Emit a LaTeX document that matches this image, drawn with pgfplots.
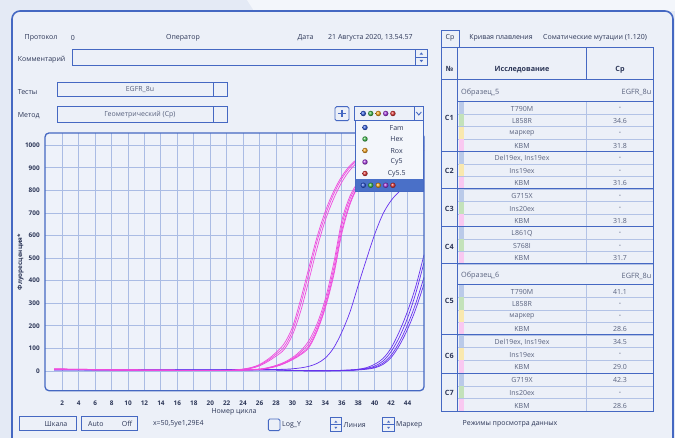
\documentclass[border=0pt]{standalone}
\usepackage{fontspec}
\setmainfont{Open Sans}
\usepackage{pgfplots}
\pgfplotsset{compat=1.18}
\definecolor{bgc}{HTML}{E4EAF5}
\definecolor{bgl}{HTML}{F3F6FB}
\definecolor{panel}{HTML}{ECF0F8}
\definecolor{plotbg}{HTML}{EEF2FA}
\definecolor{framec}{HTML}{4568C2}
\definecolor{gridc}{HTML}{AABCE4}
\definecolor{txt}{HTML}{2C3657}
\definecolor{gtxt}{HTML}{59627E}
\definecolor{pinkc}{HTML}{EE4CDE}
\definecolor{purpc}{HTML}{6630EE}
\definecolor{dblue}{HTML}{2F5BE0}
\definecolor{dgreen}{HTML}{3DBB4A}
\definecolor{dorange}{HTML}{F7A21B}
\definecolor{dpurple}{HTML}{A437E0}
\definecolor{dred}{HTML}{E03232}
\definecolor{hl}{HTML}{4A70C8}
\definecolor{cfam}{HTML}{BACAE9}
\definecolor{chex}{HTML}{C3E2BA}
\definecolor{crox}{HTML}{F9E8AE}
\definecolor{ckbm}{HTML}{F9C8F1}
\definecolor{rowl}{HTML}{B3C3E6}
\newcommand{\fs}[1]{\fontsize{#1}{#1}\selectfont}
\newcommand{\trow}[5]{%
  \fill[#4] (458.5,#1) rectangle (463.5,#2);
  \draw[rowl, line width=0.6pt] (458,#2) -- (653,#2);
  \node[ttxt] at (522,{(#1+#2)/2+0.6}) {#3};
  \node[ttxt] at (620,{(#1+#2)/2+0.6}) {#5};
}
\newcommand{\dotrow}[2]{%
  \shade[ball color=dblue] (#1,#2) circle (2.7);
  \shade[ball color=dgreen] (#1+7.4,#2) circle (2.7);
  \shade[ball color=dorange] (#1+15,#2) circle (2.7);
  \shade[ball color=dpurple] (#1+22.4,#2) circle (2.7);
  \shade[ball color=dred] (#1+29.6,#2) circle (2.7);
}
\tikzset{
  lbl/.style={font=\fs{7}, text=txt, inner sep=0pt},
  gt/.style={font=\fs{7}, text=gtxt, inner sep=0pt},
  ttxt/.style={font=\fs{7}, text=gtxt, inner sep=0pt},
  hdr/.style={font=\fs{7.2}\bfseries, text=txt, inner sep=0pt},
  box/.style={draw=framec, line width=0.9pt},
}
\begin{document}
\begin{tikzpicture}
\useasboundingbox (0,0) rectangle (675pt,438pt);
\clip (0,0) rectangle (675pt,438pt);
\begin{scope}[x=1pt,y=-1pt,shift={(0,438pt)}]
\fill[bgc] (0,0) rectangle (675,438);
\fill[bgl] (247,0) -- (675,0) -- (675,11) -- (254,11) -- cycle;
\fill[panel, rounded corners=8pt] (12,11) rectangle (673,460);
\draw[framec, line width=1.6pt, rounded corners=8pt] (12,460) -- (12,11) -- (673,11) -- (673,460);
% header
\node[lbl, anchor=west] at (24.5,37.7) {Протокол};
\node[lbl] at (73,37.7) {0};
\node[lbl] at (183,37.7) {Оператор};
\node[lbl] at (305.5,37.7) {Дата};
\node[lbl, anchor=west] at (328,37.7) {21 Августа 2020,\ 13.54.57};
\node[lbl, anchor=west] at (17.7,59.3) {Комментарий};
\draw[box] (72.7,49) rectangle (427.7,65.7);
\draw[box] (415,49) rectangle (427.7,65.7);
\draw[framec, line width=0.5pt] (415,57.3) -- (427.7,57.3);
\fill[framec] (419.6,54.6) -- (423.1,54.6) -- (421.35,52.4) -- cycle;
\fill[framec] (419.6,60) -- (423.1,60) -- (421.35,62.2) -- cycle;
\node[lbl, anchor=west] at (17.7,92.3) {Тесты};
\draw[box] (57.3,82.7) rectangle (227.7,96);
\draw[box] (213.3,82.7) -- (213.3,96);
\node[gt] at (140,89.6) {EGFR\_8u};
\node[lbl, anchor=west] at (17.7,115.3) {Метод};
\draw[box] (57.3,106.7) rectangle (227.7,122.3);
\draw[box] (213.3,106.7) -- (213.3,122.3);
\node[gt] at (140,114.6) {Геометрический (Ср)};
% plot background
\fill[plotbg, rounded corners=4pt] (45,133) rectangle (424,390.7);
\end{scope}
\begin{axis}[
  at={(45pt,47.3pt)}, anchor=south west,
  scale only axis, width=379pt, height=257.7pt,
  xmin=-0.1, xmax=46, ymin=-87, ymax=1054,
  xtick={2,4,...,44}, ytick={0,100,...,1000},
  grid=major, major grid style={draw=gridc, line width=0.85pt},
  axis line style={draw=none}, tick style={draw=none},
  /pgf/number format/1000 sep={}, /pgf/number format/assume math mode=true,
  tick label style={font=\fs{6.4}\bfseries, text=txt},
  xticklabel style={anchor=base, yshift=-14.8pt},
  yticklabel style={anchor=east, xshift=-1.8pt},
  every axis plot/.append style={line width=0.7pt, smooth, tension=0.55, mark=none},
]
% purple curves
\addplot[purpc] coordinates {(1,6)(5,5)(10,4)(15,4)(20,4)(25,5)(27,6)(29,8)(30,10)(31,14)(32,21)(33,34)(34,58)(35,102)(36,172)(37,262)(38,380)(39,495)(40,605)(41,695)(42,755)(43,795)(44,825)(46,860)};
\addplot[purpc] coordinates {(1,6)(10,5)(20,5)(25,6)(27,6)(29,4)(31,2)(33,1)(35,2)(37,5)(38,8)(39,15)(40,30)(41,55)(42,102)(43,175)(44,265)(45,375)(46,515)};
\addplot[purpc] coordinates {(1,6)(10,5)(20,5)(25,6)(27,6)(29,4)(31,2)(33,1)(35,2)(37,4)(38,7)(39,12)(40,22)(41,44)(42,86)(43,150)(44,235)(45,345)(46,480)};
\addplot[purpc] coordinates {(1,6)(10,5)(20,5)(25,6)(27,6)(29,4)(31,2)(33,1)(35,1)(37,3)(38,6)(39,10)(40,17)(41,35)(42,70)(43,128)(44,205)(45,300)(46,415)};
\addplot[purpc] coordinates {(1,6)(10,5)(20,5)(25,6)(27,6)(29,4)(31,2)(33,1)(35,1)(37,3)(38,5)(39,8)(40,14)(41,29)(42,60)(43,113)(44,185)(45,275)(46,385)};
% pink curves, sample 6
\addplot[pinkc] coordinates {(1,9)(4,8)(8,6)(12,4)(16,3)(20,2)(22,3)(23,5)(24,9)(25,16)(26,29)(27,52)(28,82)(29,122)(30,195)(31,318)(32,458)(33,595)(34,708)(35,795)(36,862)(37,910)(38,940)(40,972)(42,987)(44,994)(46,998)};
\addplot[pinkc] coordinates {(1,8)(4,7)(8,5)(12,4)(16,3)(20,2)(22,2)(23,4)(24,8)(25,14)(26,26)(27,47)(28,74)(29,108)(30,178)(31,295)(32,435)(33,575)(34,690)(35,782)(36,852)(37,902)(38,934)(40,968)(42,985)(44,993)(46,997)};
\addplot[pinkc] coordinates {(1,8)(4,7)(8,5)(12,4)(16,3)(20,2)(22,2)(23,3)(24,7)(25,12)(26,23)(27,42)(28,66)(29,96)(30,160)(31,265)(32,402)(33,545)(34,668)(35,762)(36,836)(37,890)(38,925)(40,962)(42,982)(44,992)(46,996)};
% pink curves, sample 5
\addplot[pinkc] coordinates {(1,9)(4,8)(8,6)(12,4)(16,3)(20,3)(22,3)(24,5)(26,9)(27,15)(28,25)(29,39)(30,60)(31,90)(32,135)(33,210)(34,320)(35,475)(36,665)(37,775)(38,838)(39,880)(40,910)(42,948)(44,967)(46,979)};
\addplot[pinkc] coordinates {(1,8)(4,7)(8,5)(12,4)(16,3)(20,2)(22,2)(24,4)(26,8)(27,14)(28,23)(29,36)(30,55)(31,83)(32,122)(33,195)(34,302)(35,452)(36,645)(37,762)(38,830)(39,875)(40,906)(42,946)(44,966)(46,978)};
\addplot[pinkc] coordinates {(1,8)(4,7)(8,5)(12,4)(16,3)(20,2)(22,2)(24,4)(26,8)(27,13)(28,21)(29,34)(30,52)(31,76)(32,110)(33,182)(34,288)(35,432)(36,622)(37,746)(38,822)(39,870)(40,903)(42,944)(44,964)(46,977)};
\addplot[pinkc] coordinates {(1,8)(4,7)(8,5)(12,4)(16,3)(20,2)(22,2)(24,4)(26,7)(27,12)(28,20)(29,33)(30,50)(31,72)(32,104)(33,176)(34,280)(35,420)(36,608)(37,738)(38,818)(39,867)(40,900)(42,942)(44,963)(46,976)};
\end{axis}
\begin{scope}[x=1pt,y=-1pt,shift={(0,438pt)}]
\draw[framec, line width=1.3pt, rounded corners=4pt] (45,133) rectangle (424,390.7);
\node[font=\fs{6.3}\bfseries, text=txt, rotate=90, inner sep=0] at (20.5,262) {Флуоресценция*};
\node[font=\fs{7}, text=txt, inner sep=0] at (234,411.7) {Номер цикла};
% plus button and selector
\fill[panel] (335,106.7) rectangle (349,120.7);
\draw[box, rounded corners=1.5pt] (335,106.7) rectangle (349,120.7);
\draw[framec, line width=1.1pt] (338.2,113.7) -- (345.8,113.7) (342,109.9) -- (342,117.5);
\fill[panel] (354.3,106.7) rectangle (423.3,120.7);
\draw[box] (354.3,106.7) rectangle (423.3,120.7);
\draw[box] (414.3,106.7) -- (414.3,120.7);
\draw[framec, line width=0.9pt] (416.3,112) -- (418.8,115) -- (421.3,112);
\dotrow{363.3}{113.5}
% legend list
\fill[bgl] (355,120.7) rectangle (423.3,191.7);
\fill[hl] (355,179) rectangle (423.3,191.7);
\draw[box] (355,120.7) rectangle (423.3,191.7);
\shade[ball color=dblue] (365,127.5) circle (2.7);
\shade[ball color=dgreen] (365,139) circle (2.7);
\shade[ball color=dorange] (365,150.5) circle (2.7);
\shade[ball color=dpurple] (365,162) circle (2.7);
\shade[ball color=dred] (365,173.5) circle (2.7);
\node[lbl] at (396.7,127.8) {Fam};
\node[lbl] at (396.7,139.3) {Hex};
\node[lbl] at (396.7,150.8) {Rox};
\node[lbl] at (396.7,162.3) {Cy5};
\node[lbl] at (396.7,173.8) {Cy5.5};
\dotrow{363.3}{185.3}
% bottom controls
\draw[box] (19.3,416.7) rectangle (76,430);
\node[lbl] at (56,424) {Шкала};
\draw[box] (81,416.7) rectangle (137.7,430);
\node[lbl] at (95.8,424) {Auto};
\node[lbl] at (127,424) {Off};
\node[lbl] at (178.3,423.8) {x=50,5ye1,29E4};
\draw[box, rounded corners=1.5pt] (268.3,419) rectangle (280,430.7);
\node[lbl, anchor=west] at (282,425) {Log\_Y};
\draw[box] (330,417.7) rectangle (341.7,431.7);
\draw[framec, line width=0.5pt] (330,424.7) -- (341.7,424.7);
\fill[framec] (334.3,422.6) -- (337.4,422.6) -- (335.85,420.6) -- cycle;
\fill[framec] (334.3,426.8) -- (337.4,426.8) -- (335.85,428.8) -- cycle;
\node[lbl, anchor=west] at (343.5,425.3) {Линия};
\draw[box] (382.7,417.7) rectangle (394.3,431.7);
\draw[framec, line width=0.5pt] (382.7,424.7) -- (394.3,424.7);
\fill[framec] (387,422.6) -- (390.1,422.6) -- (388.55,420.6) -- cycle;
\fill[framec] (387,426.8) -- (390.1,426.8) -- (388.55,428.8) -- cycle;
\node[lbl, anchor=west] at (396,425.3) {Маркер};
% right panel tabs
\draw[box] (441,47.7) -- (441,30) -- (459,30) -- (459,47.7) -- (653.3,47.7);
\node[lbl] at (450,37.7) {Ср};
\node[lbl] at (501,37.7) {Кривая плавления};
\node[lbl] at (595,37.7) {Соматические мутации (1.120)};
% table
\node[hdr] at (449.5,69.3) {№};
\node[hdr] at (522,69.3) {Исследование};
\node[hdr] at (620,69.3) {Ср};
\node[ttxt, font=\fs{7.3}, anchor=west] at (461,92.5) {Образец\_5};
\node[ttxt, font=\fs{7.3}, anchor=east] at (651.5,92.5) {EGFR\_8u};
\trow{101.7}{114.3}{T790M}{cfam}{-}
\trow{114.3}{126.7}{L858R}{chex}{34.6}
\trow{126.7}{139.3}{маркер}{crox}{-}
\trow{139.3}{151.7}{KBM}{ckbm}{31.8}
\trow{151.7}{164.3}{Del19ex, Ins19ex}{cfam}{-}
\trow{164.3}{176.7}{Ins19ex}{crox}{-}
\trow{176.7}{189}{KBM}{ckbm}{31.6}
\trow{189}{201.7}{G715X}{cfam}{-}
\trow{201.7}{214.3}{Ins20ex}{chex}{-}
\trow{214.3}{226.7}{KBM}{ckbm}{31.8}
\trow{226.7}{239.3}{L861Q}{cfam}{-}
\trow{239.3}{251.7}{S768I}{chex}{-}
\trow{251.7}{264}{KBM}{ckbm}{31.7}
\node[ttxt, font=\fs{7.3}, anchor=west] at (461,276) {Образец\_6};
\node[ttxt, font=\fs{7.3}, anchor=east] at (651.5,276) {EGFR\_8u};
\trow{285}{297.5}{T790M}{cfam}{41.1}
\trow{297.5}{310}{L858R}{chex}{-}
\trow{310}{322.5}{маркер}{crox}{-}
\trow{322.5}{335}{KBM}{ckbm}{28.6}
\trow{335}{347.8}{Del19ex, Ins19ex}{cfam}{34.5}
\trow{347.8}{360.5}{Ins19ex}{crox}{-}
\trow{360.5}{373.3}{KBM}{ckbm}{29.0}
\trow{373.3}{386}{G719X}{cfam}{42.3}
\trow{386}{398.8}{Ins20ex}{chex}{-}
\trow{398.8}{411.7}{KBM}{ckbm}{28.6}
\draw[rowl, line width=0.7pt] (586.7,47.7) -- (586.7,80) (586.7,101.7) -- (586.7,264) (586.7,285) -- (586.7,411.7);
\draw[framec, line width=1pt] (441,47.7) rectangle (653.3,411.7);
\draw[framec, line width=1pt] (457.7,47.7) -- (457.7,411.7);
\draw[framec, line width=1pt] (586.7,47.7) -- (586.7,80);
\foreach \yy in {80,151.7,189,226.7,264,335,373.3} {\draw[framec, line width=1pt] (441,\yy) -- (653.3,\yy);}
\foreach \yy in {101.7,285} {\draw[framec, line width=1pt] (457.7,\yy) -- (653.3,\yy);}
\node[hdr] at (449.3,117.5) {C1};
\node[hdr] at (449.3,171) {C2};
\node[hdr] at (449.3,208.5) {C3};
\node[hdr] at (449.3,247) {C4};
\node[hdr] at (449.3,300.5) {C5};
\node[hdr] at (449.3,355.5) {C6};
\node[hdr] at (449.3,392.7) {C7};
\node[lbl] at (510,424.3) {Режимы просмотра данных};
\end{scope}
\end{tikzpicture}
\end{document}
